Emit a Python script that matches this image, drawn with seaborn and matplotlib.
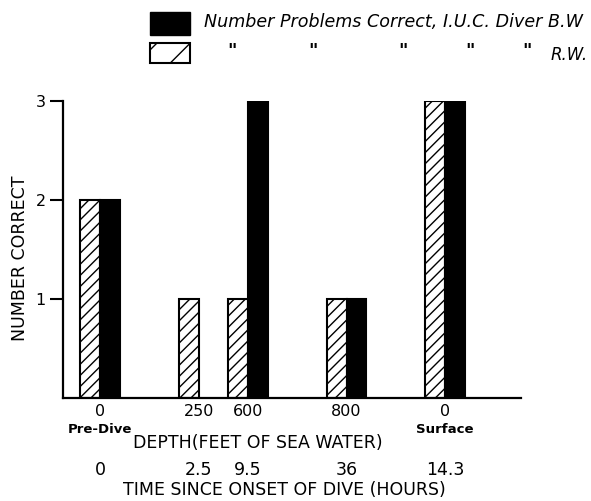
import matplotlib
matplotlib.use("Agg")
import matplotlib.pyplot as plt
import matplotlib.patches as mpatches
import pandas as pd
import seaborn as sns

# Test sessions: depth (ft of sea water), slot along the x axis, elapsed time
depth_labels = ["0", "250", "600", "800", "0"]
phase_labels = ["Pre-Dive", "", "", "", "Surface"]
slot_positions = [0.0, 1.0, 1.5, 2.5, 3.5]
time_labels = ["0", "2.5", "9.5", "36", "14.3"]

# Number of problems correct per diver (None = not tested)
rw_correct = [2, 1, 1, 1, 3]
bw_correct = [2, None, 3, 1, 3]

rows = []
for pos, rw, bw in zip(slot_positions, rw_correct, bw_correct):
    if rw is not None:
        rows.append({"pos": pos, "diver": "R.W.", "correct": rw})
    if bw is not None:
        rows.append({"pos": pos, "diver": "B.W", "correct": bw})
df = pd.DataFrame(rows)

sns.set_theme(style="ticks")
plt.rcParams["font.family"] = ["DejaVu Sans"]
plt.rcParams["text.color"] = "black"
plt.rcParams["xtick.color"] = "black"
plt.rcParams["ytick.color"] = "black"
plt.rcParams["axes.edgecolor"] = "black"
plt.rcParams["hatch.linewidth"] = 1.0

W, H = 591, 501
fig = plt.figure(figsize=(W / 100, H / 100), dpi=100)
ax = fig.add_axes([63 / W, 1 - 398 / H, (521 - 63) / W, (398 - 101) / H])

sns.barplot(
    data=df, x="pos", y="correct", hue="diver",
    hue_order=["R.W.", "B.W"], palette={"R.W.": "white", "B.W": "black"},
    native_scale=True, width=0.8, dodge=True, errorbar=None,
    edgecolor="black", linewidth=1.5, legend=False, ax=ax,
)
for bar in ax.containers[0]:
    bar.set_hatch("///")

ax.set_xlim(-0.376, 4.27)
ax.set_ylim(0, 3)
ax.set_yticks([1, 2, 3])
ax.set_yticklabels(["1", "2", "3"], fontsize=11.5)
ax.tick_params(axis="y", length=9.5, width=1.5, direction="out", pad=3,
               colors="black")
ax.set_xticks(slot_positions)
ax.set_xticklabels(depth_labels, fontsize=11.5)
ax.tick_params(axis="x", length=0, pad=4, colors="black")
for s in ["top", "right"]:
    ax.spines[s].set_visible(False)
for s in ["left", "bottom"]:
    ax.spines[s].set_linewidth(1.6)
    ax.spines[s].set_color("black")
ax.set_xlabel("")
ax.set_ylabel("")

trans = ax.get_xaxis_transform()
for pos, ph in zip(slot_positions, phase_labels):
    if ph:
        ax.text(pos, -0.106, ph, transform=trans, ha="center", va="center",
                fontsize=9.5, fontweight="bold")
for pos, t in zip(slot_positions, time_labels):
    ax.text(pos, -0.243, t, transform=trans, ha="center", va="center",
            fontsize=12.5)

fig.text(258 / W, 1 - 443 / H, "DEPTH(FEET OF SEA WATER)", ha="center",
         va="center", fontsize=12.5)
fig.text(284 / W, 1 - 490 / H, "TIME SINCE ONSET OF DIVE (HOURS)",
         ha="center", va="center", fontsize=12.5)
fig.text(20 / W, 1 - 258 / H, "NUMBER CORRECT", rotation=90, ha="center",
         va="center", fontsize=12.5)

# Legend drawn in figure pixels
fig.add_artist(mpatches.Rectangle((150 / W, 1 - 35 / H), 40 / W, 23 / H,
                                  facecolor="black", edgecolor="black",
                                  transform=fig.transFigure))
fig.add_artist(mpatches.Rectangle((150 / W, 1 - 63 / H), 40 / W, 20 / H,
                                  facecolor="white", edgecolor="black",
                                  linewidth=1.5, hatch="/",
                                  transform=fig.transFigure))
fig.text(204 / W, 1 - 22 / H, "Number Problems Correct, I.U.C. Diver B.W",
         ha="left", va="center", fontsize=12.6, style="italic")
for x in [232, 313, 403, 470, 527]:
    fig.text(x / W, 1 - 51 / H, '"', ha="center", va="center",
             fontsize=13, style="italic", fontweight="bold")
fig.text(588 / W, 1 - 55 / H, "R.W.", ha="right", va="center",
         fontsize=12, style="italic")

fig.savefig("out.png", dpi=100)
